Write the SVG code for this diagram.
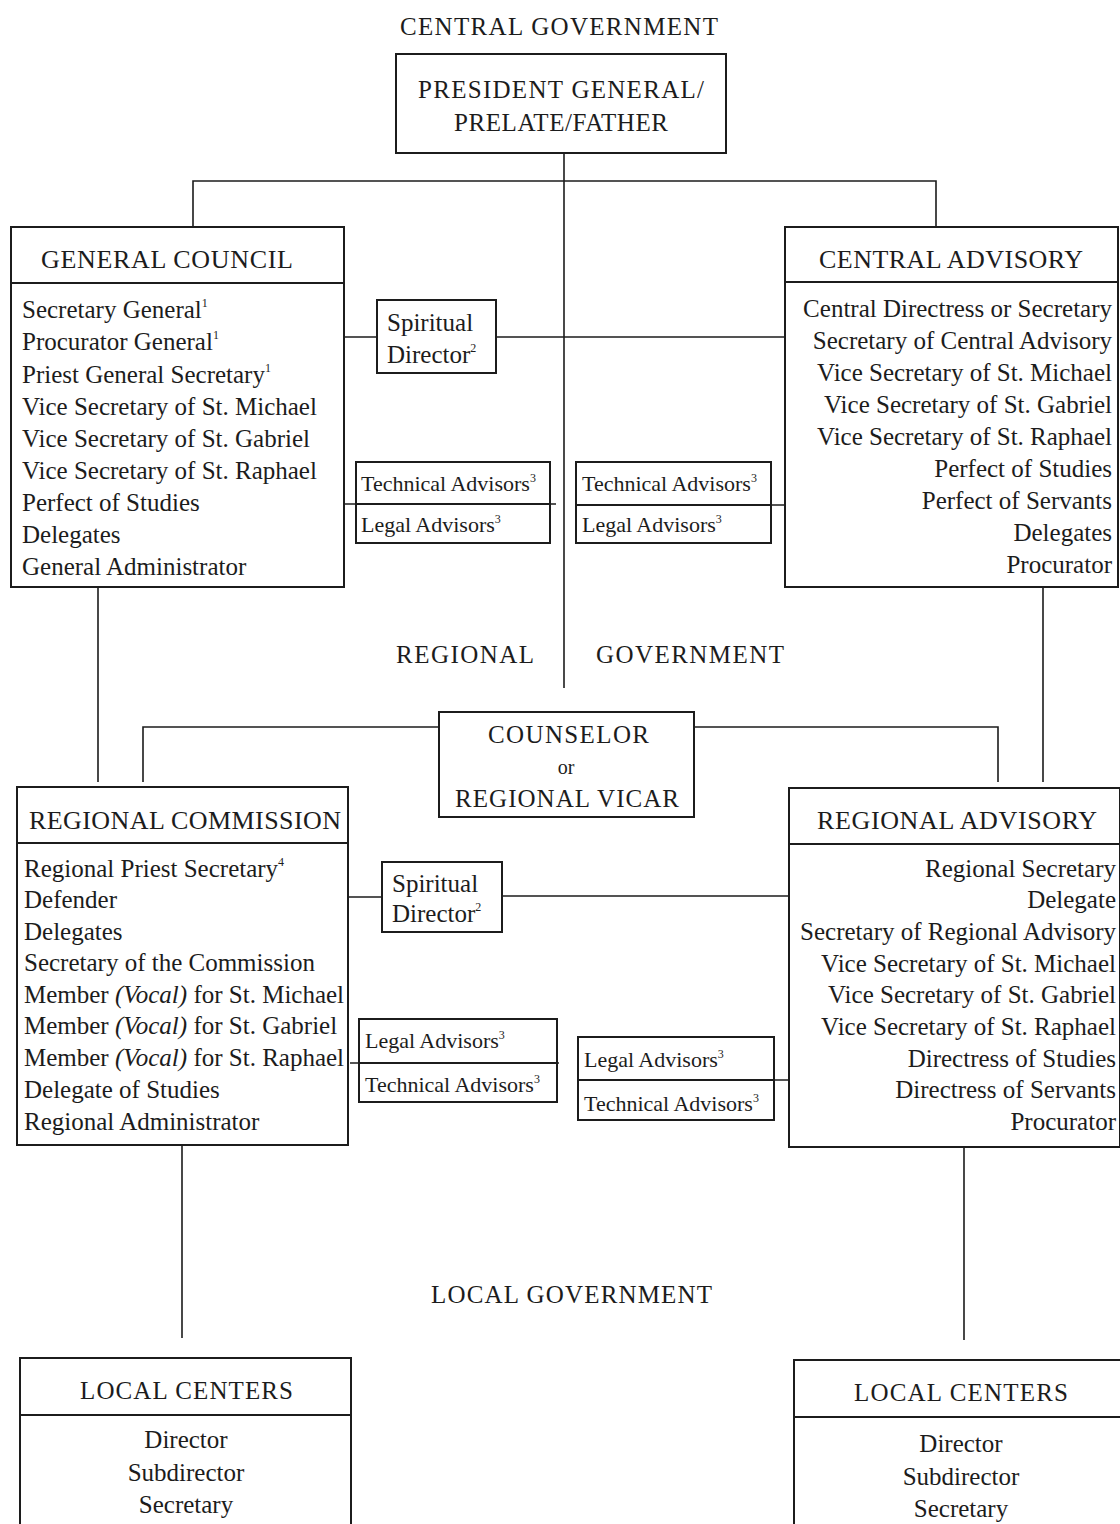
<svg xmlns="http://www.w3.org/2000/svg" width="1120" height="1524" viewBox="0 0 1120 1524">
<style>
.bx{fill:#fff;stroke:#1c1c1c;stroke-width:2}
.dv{stroke:#1c1c1c;stroke-width:2}
.ln{stroke:#1c1c1c;stroke-width:1.6;fill:none}
text{font-family:"Liberation Serif","Times New Roman",serif;fill:#1c1c1c}
.h{font-size:26px}
.g{font-size:25px}
.t{font-size:25px}
.s{font-size:22px}
.sp{font-size:12px}
.r{text-anchor:end}
.c{text-anchor:middle}
</style>
<rect width="1120" height="1524" fill="#fff"/>
<g id="connectors">
<path class="ln" d="M564 152V688"/>
<path class="ln" d="M193 227V181H936V227"/>
<path class="ln" d="M345 337H377M496 337H785"/>
<path class="ln" d="M345 504H556M576 505H785"/>
<path class="ln" d="M98 587V782M1043 587V782"/>
<path class="ln" d="M143 782V727H439M694 727H998V782"/>
<path class="ln" d="M348 897H382M502 896H789"/>
<path class="ln" d="M350 1063H559M774 1080H789"/>
<path class="ln" d="M182 1145V1338M964 1147V1340"/>
</g>
<g id="labels">
<text class="g" x="400" y="35" textLength="318" lengthAdjust="spacing">CENTRAL GOVERNMENT</text>
<text class="g" x="396" y="663" textLength="138" lengthAdjust="spacing">REGIONAL</text>
<text class="g" x="596" y="663" textLength="188" lengthAdjust="spacing">GOVERNMENT</text>
<text class="g" x="431" y="1303" textLength="281" lengthAdjust="spacing">LOCAL GOVERNMENT</text>
</g>
<g id="president">
<rect class="bx" x="396" y="54" width="330" height="99"/>
<text class="g" x="418" y="98" textLength="286" lengthAdjust="spacing">PRESIDENT GENERAL/</text>
<text class="g" x="454" y="131" textLength="214" lengthAdjust="spacing">PRELATE/FATHER</text>
</g>
<g id="general-council">
<rect class="bx" x="11" y="227" width="333" height="360"/>
<line class="dv" x1="11" y1="283" x2="344" y2="283"/>
<text class="h" x="41" y="268" textLength="252" lengthAdjust="spacing">GENERAL COUNCIL</text>
<text class="t" x="22" y="318">Secretary General<tspan class="sp" dy="-11">1</tspan></text>
<text class="t" x="22" y="350">Procurator General<tspan class="sp" dy="-11">1</tspan></text>
<text class="t" x="22" y="383">Priest General Secretary<tspan class="sp" dy="-11">1</tspan></text>
<text class="t" x="22" y="415">Vice Secretary of St. Michael</text>
<text class="t" x="22" y="447">Vice Secretary of St. Gabriel</text>
<text class="t" x="22" y="479">Vice Secretary of St. Raphael</text>
<text class="t" x="22" y="511">Perfect of Studies</text>
<text class="t" x="22" y="543">Delegates</text>
<text class="t" x="22" y="575">General Administrator</text>
</g>
<g id="spiritual-director-1">
<rect class="bx" x="377" y="300" width="119" height="73"/>
<text class="t" x="387" y="331">Spiritual</text>
<text class="t" x="387" y="363">Director<tspan class="sp" dy="-11">2</tspan></text>
</g>
<g id="advisors-1-left">
<rect class="bx" x="356" y="462" width="194" height="81"/>
<line class="dv" x1="356" y1="504" x2="550" y2="504"/>
<text class="s" x="361" y="491">Technical Advisors<tspan class="sp" dy="-9">3</tspan></text>
<text class="s" x="361" y="532">Legal Advisors<tspan class="sp" dy="-9">3</tspan></text>
</g>
<g id="advisors-1-right">
<rect class="bx" x="576" y="462" width="195" height="81"/>
<line class="dv" x1="576" y1="505" x2="771" y2="505"/>
<text class="s" x="582" y="491">Technical Advisors<tspan class="sp" dy="-9">3</tspan></text>
<text class="s" x="582" y="532">Legal Advisors<tspan class="sp" dy="-9">3</tspan></text>
</g>
<g id="central-advisory">
<rect class="bx" x="785" y="227" width="333" height="360"/>
<line class="dv" x1="785" y1="282" x2="1118" y2="282"/>
<text class="h" x="819" y="268" textLength="264" lengthAdjust="spacing">CENTRAL ADVISORY</text>
<text class="t r" x="1112" y="317">Central Directress or Secretary</text>
<text class="t r" x="1112" y="349">Secretary of Central Advisory</text>
<text class="t r" x="1112" y="381">Vice Secretary of St. Michael</text>
<text class="t r" x="1112" y="413">Vice Secretary of St. Gabriel</text>
<text class="t r" x="1112" y="445">Vice Secretary of St. Raphael</text>
<text class="t r" x="1112" y="477">Perfect of Studies</text>
<text class="t r" x="1112" y="509">Perfect of Servants</text>
<text class="t r" x="1112" y="541">Delegates</text>
<text class="t r" x="1112" y="573">Procurator</text>
</g>
<g id="counselor">
<rect class="bx" x="439" y="712" width="255" height="105"/>
<text class="g" x="488" y="743" textLength="161" lengthAdjust="spacing">COUNSELOR</text>
<text class="c" x="566" y="774" style="font-size:20px">or</text>
<text class="g" x="455" y="807" textLength="224" lengthAdjust="spacing">REGIONAL VICAR</text>
</g>
<g id="regional-commission">
<rect class="bx" x="17" y="787" width="331" height="358"/>
<line class="dv" x1="17" y1="843" x2="348" y2="843"/>
<text class="h" x="29" y="829" textLength="312" lengthAdjust="spacing">REGIONAL COMMISSION</text>
<text class="t" x="24" y="877">Regional Priest Secretary<tspan class="sp" dy="-11">4</tspan></text>
<text class="t" x="24" y="908">Defender</text>
<text class="t" x="24" y="940">Delegates</text>
<text class="t" x="24" y="971">Secretary of the Commission</text>
<text class="t" x="24" y="1003">Member <tspan font-style="italic">(Vocal)</tspan> for St. Michael</text>
<text class="t" x="24" y="1034">Member <tspan font-style="italic">(Vocal)</tspan> for St. Gabriel</text>
<text class="t" x="24" y="1066">Member <tspan font-style="italic">(Vocal)</tspan> for St. Raphael</text>
<text class="t" x="24" y="1098">Delegate of Studies</text>
<text class="t" x="24" y="1130">Regional Administrator</text>
</g>
<g id="spiritual-director-2">
<rect class="bx" x="382" y="862" width="120" height="70"/>
<text class="t" x="392" y="892">Spiritual</text>
<text class="t" x="392" y="922">Director<tspan class="sp" dy="-11">2</tspan></text>
</g>
<g id="advisors-2-left">
<rect class="bx" x="359" y="1019" width="198" height="83"/>
<line class="dv" x1="359" y1="1063" x2="557" y2="1063"/>
<text class="s" x="365" y="1048">Legal Advisors<tspan class="sp" dy="-9">3</tspan></text>
<text class="s" x="365" y="1092">Technical Advisors<tspan class="sp" dy="-9">3</tspan></text>
</g>
<g id="advisors-2-right">
<rect class="bx" x="578" y="1037" width="196" height="83"/>
<line class="dv" x1="578" y1="1080" x2="774" y2="1080"/>
<text class="s" x="584" y="1067">Legal Advisors<tspan class="sp" dy="-9">3</tspan></text>
<text class="s" x="584" y="1111">Technical Advisors<tspan class="sp" dy="-9">3</tspan></text>
</g>
<g id="regional-advisory">
<rect class="bx" x="789" y="788" width="331" height="359"/>
<line class="dv" x1="789" y1="844" x2="1120" y2="844"/>
<text class="h" x="817" y="829" textLength="280" lengthAdjust="spacing">REGIONAL ADVISORY</text>
<text class="t r" x="1116" y="877">Regional Secretary</text>
<text class="t r" x="1116" y="908">Delegate</text>
<text class="t r" x="1116" y="940">Secretary of Regional Advisory</text>
<text class="t r" x="1116" y="972">Vice Secretary of St. Michael</text>
<text class="t r" x="1116" y="1003">Vice Secretary of St. Gabriel</text>
<text class="t r" x="1116" y="1035">Vice Secretary of St. Raphael</text>
<text class="t r" x="1116" y="1067">Directress of Studies</text>
<text class="t r" x="1116" y="1098">Directress of Servants</text>
<text class="t r" x="1116" y="1130">Procurator</text>
</g>
<g id="local-centers-left">
<rect class="bx" x="20" y="1358" width="331" height="190"/>
<line class="dv" x1="20" y1="1415" x2="351" y2="1415"/>
<text class="g" x="80" y="1399" textLength="213" lengthAdjust="spacing">LOCAL CENTERS</text>
<text class="t c" x="186" y="1448">Director</text>
<text class="t c" x="186" y="1481">Subdirector</text>
<text class="t c" x="186" y="1513">Secretary</text>
</g>
<g id="local-centers-right">
<rect class="bx" x="794" y="1360" width="340" height="190"/>
<line class="dv" x1="794" y1="1417" x2="1134" y2="1417"/>
<text class="g" x="854" y="1401" textLength="214" lengthAdjust="spacing">LOCAL CENTERS</text>
<text class="t c" x="961" y="1452">Director</text>
<text class="t c" x="961" y="1485">Subdirector</text>
<text class="t c" x="961" y="1517">Secretary</text>
</g>
</svg>
